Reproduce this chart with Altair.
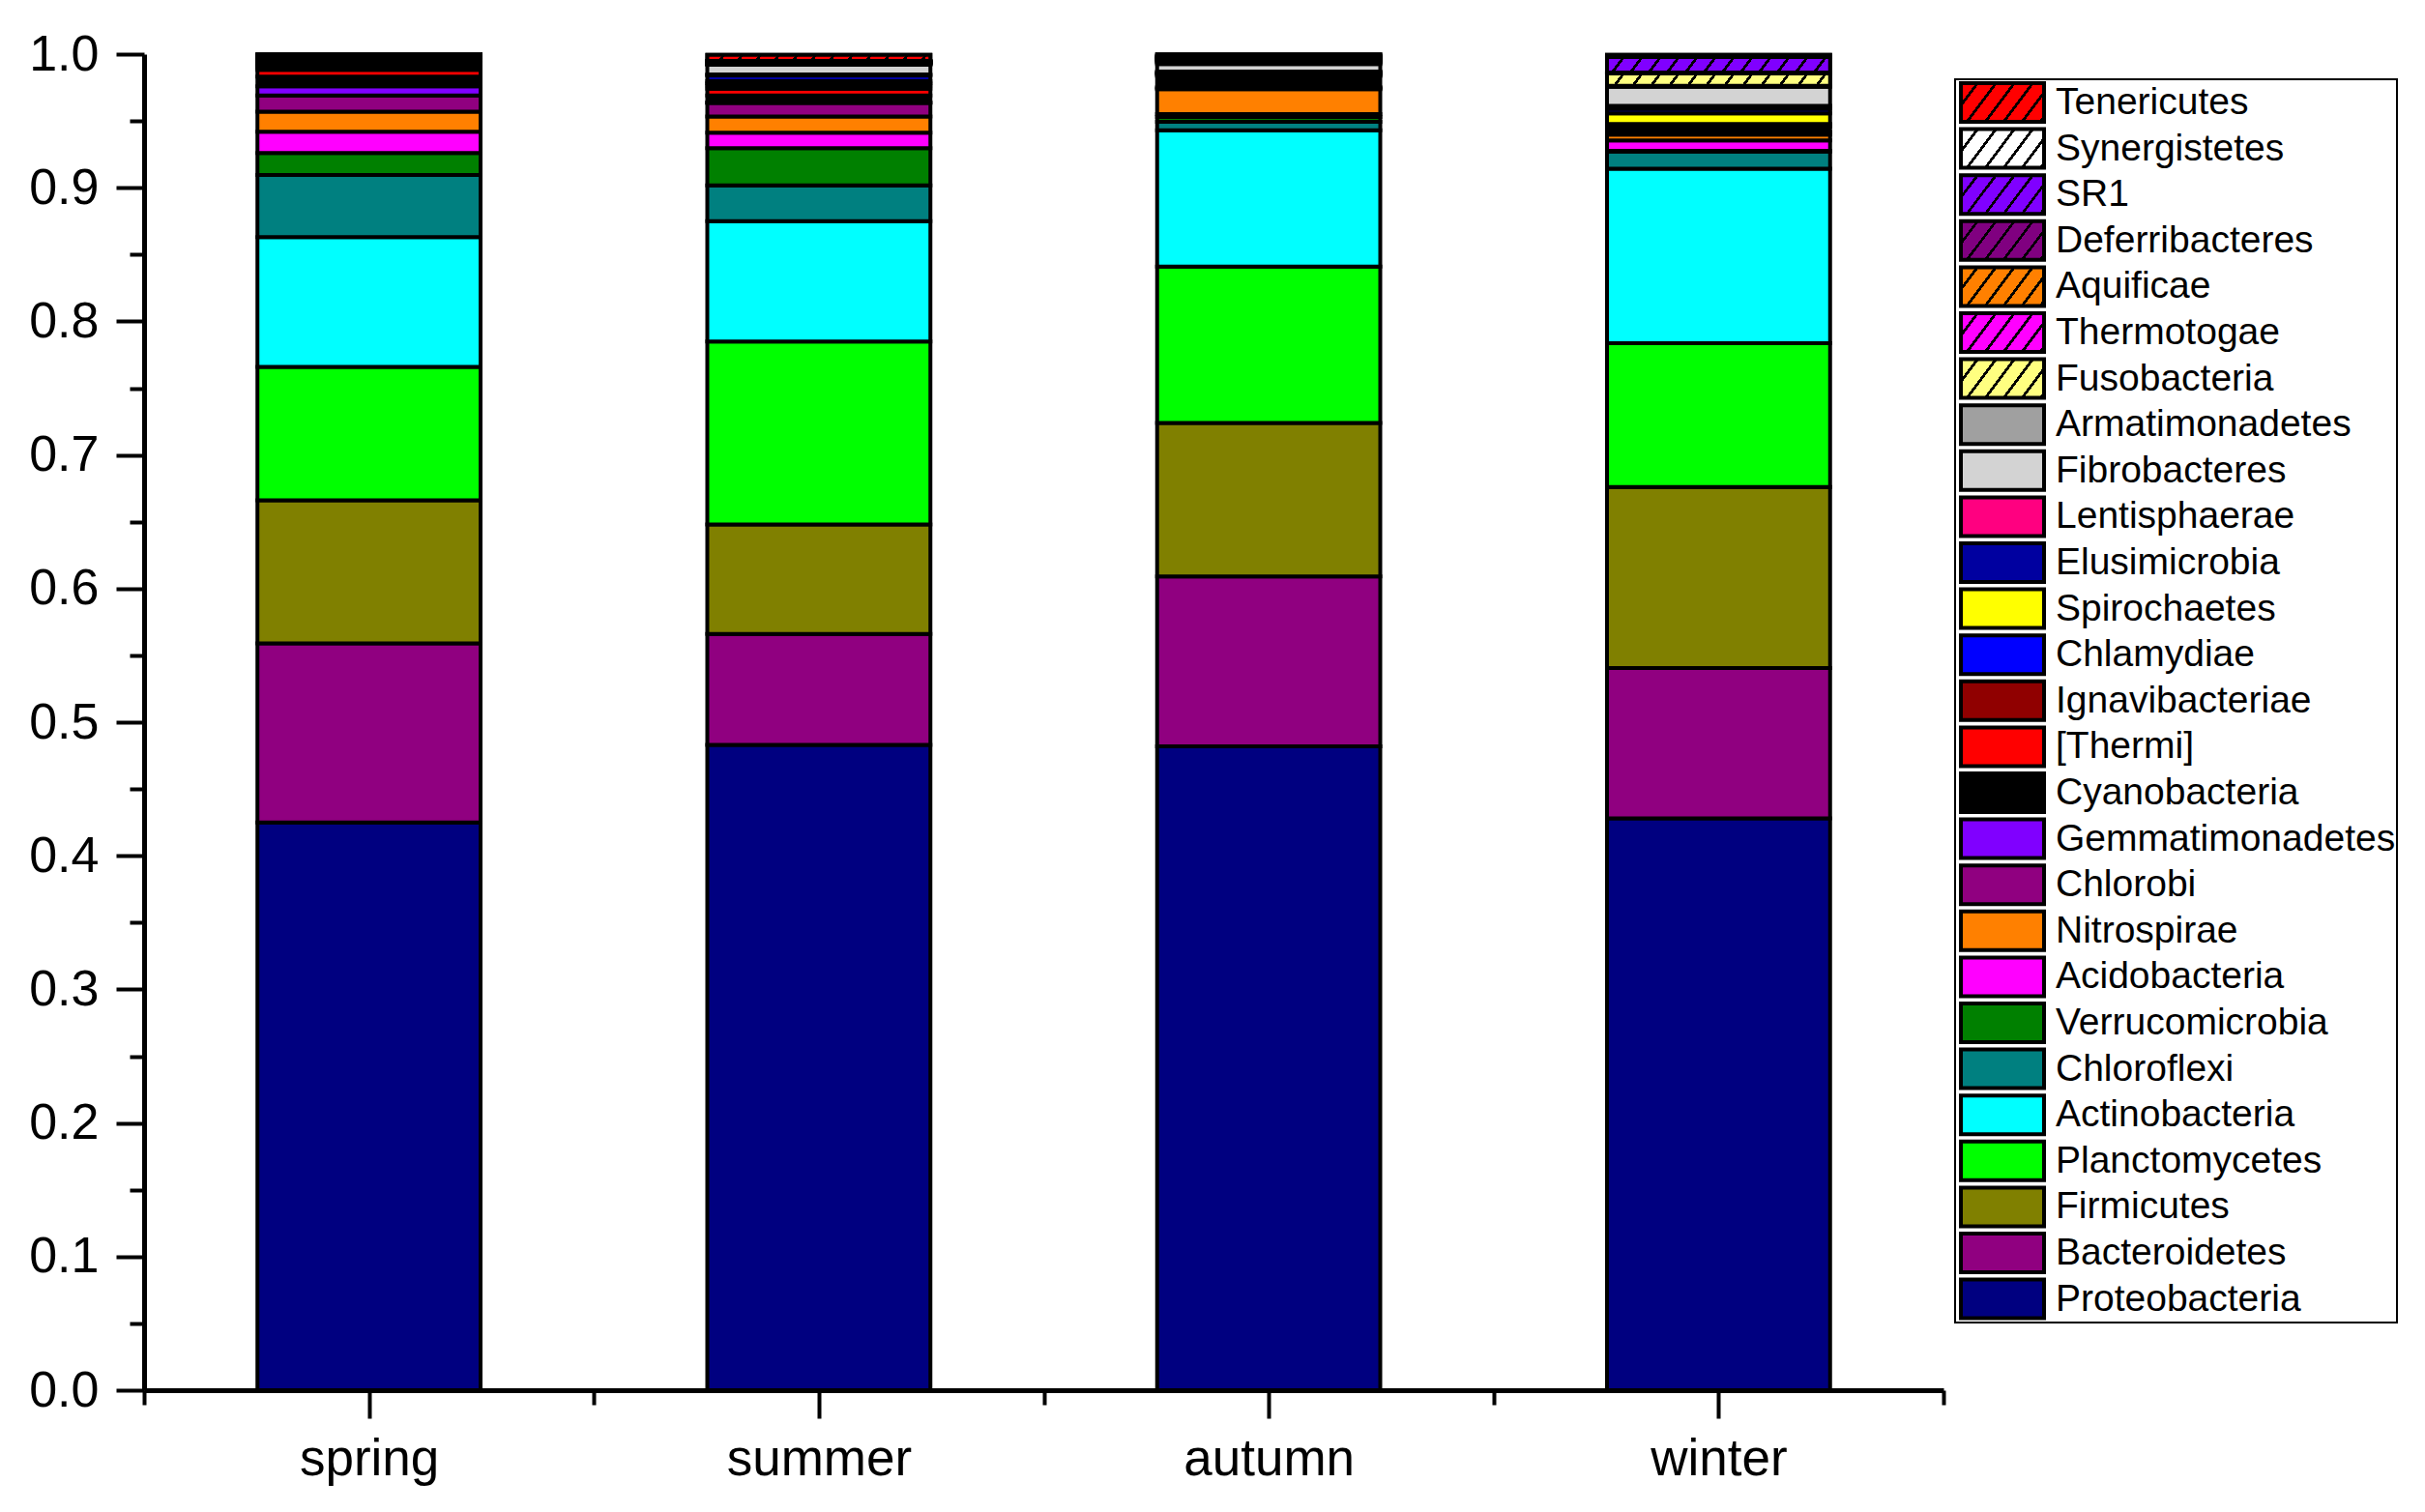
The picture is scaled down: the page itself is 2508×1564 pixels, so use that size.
import json
import altair as alt

# ---------------- data ----------------
seasons = ["spring", "summer", "autumn", "winter"]

# stacking order, bottom -> top
phyla = [
    "Proteobacteria", "Bacteroidetes", "Firmicutes", "Planctomycetes",
    "Actinobacteria", "Chloroflexi", "Verrucomicrobia", "Acidobacteria",
    "Nitrospirae", "Chlorobi", "Gemmatimonadetes", "Cyanobacteria",
    "[Thermi]", "Ignavibacteriae", "Chlamydiae", "Spirochaetes",
    "Elusimicrobia", "Lentisphaerae", "Fibrobacteres", "Armatimonadetes",
    "Fusobacteria", "Thermotogae", "Aquificae", "Deferribacteres",
    "SR1", "Synergistetes", "Tenericutes",
]

colors = [
    "#000080", "#900080", "#808000", "#00FF00",
    "#00FFFF", "#008080", "#008000", "#FF00FF",
    "#FF8000", "#900080", "#8000FF", "#000000",
    "#FF0000", "#900000", "#0000FF", "#FFFF00",
    "#0000A0", "#FF0080", "#D3D3D3", "#A0A0A0",
    "#FFFF80", "#FF00FF", "#FF8000", "#800080",
    "#8000FF", "#FFFFFF", "#FF0000",
]

hatched = [False] * 20 + [True] * 7

spring_vals = [0.425, 0.134, 0.107, 0.100, 0.097, 0.0465, 0.0165, 0.016,
               0.015, 0.012, 0.007, 0.0072, 0.005, 0.0015, 0.001, 0.001,
               0.001, 0.001, 0.001, 0.001, 0.0008, 0.0007, 0.0007, 0.0006,
               0.0005, 0.0005, 0.0004]
summer_vals = [0.483, 0.083, 0.082, 0.137, 0.090, 0.0267, 0.028, 0.0115,
               0.0122, 0.010, 0.0005, 0.0052, 0.005, 0.0025, 0.0015, 0.0017,
               0.0043, 0.0007, 0.0072, 0.0006, 0.0004, 0.0004, 0.0004, 0.0004,
               0.0004, 0.0004, 0.0045]
autumn_vals = [0.482, 0.127, 0.115, 0.117, 0.102, 0.0064, 0.0035, 0.0022,
               0.0186, 0.0008, 0.0008, 0.0085, 0.0006, 0.0008, 0.0005, 0.0004,
               0.0004, 0.0004, 0.0057, 0.0012, 0.001, 0.0008, 0.0008, 0.0008,
               0.0008, 0.0008, 0.001]
winter_vals = [0.428, 0.1125, 0.1355, 0.1076, 0.1306, 0.0129, 0.0005, 0.0079,
               0.0043, 0.0012, 0.0008, 0.004, 0.0008, 0.0006, 0.0005, 0.0079,
               0.0035, 0.0022, 0.0143, 0.0007, 0.0093, 0.0003, 0.0002, 0.0002,
               0.0115, 0.0008, 0.0009]
season_values = [spring_vals, summer_vals, autumn_vals, winter_vals]

ytick_values = [0.0, 0.05, 0.1, 0.15, 0.2, 0.25, 0.3, 0.35, 0.4, 0.45, 0.5,
                0.55, 0.6, 0.65, 0.7, 0.75, 0.8, 0.85, 0.9, 0.95, 1.0]
xtick_values = [0, 0.5, 1, 1.5, 2, 2.5, 3, 3.5, 4]

# ---------------- layout constants ----------------
PLOT_W, PLOT_H = 1861, 1382
BAR_HALF = 0.248
LEG_SYM_W, LEG_SYM_H = 86.0, 40.0
LEG_PATH = "M-1,-0.909L2.909,-0.909L2.909,0.909L-1,0.909Z"


def hatch_gradient(color, w, h, period=19.0, slope=1.33, line_frac=0.18):
    """Linear gradient with hard stops drawing '/' hatch lines in a w x h box."""
    w = max(w, 1.0)
    h = max(h, 1.0)
    denom = slope * w + h
    gx, gy = slope * w / denom, h / denom
    g2 = gx * gx + gy * gy
    x2, y2 = gx / g2, gy / g2
    n = denom / (slope * period)
    stops = []
    k = 0
    while k / n < 1:
        a = k / n
        b = min((k + 1 - line_frac) / n, 1.0)
        c = min((k + 1) / n, 1.0)
        stops += [
            {"offset": round(a, 5), "color": color},
            {"offset": round(b, 5), "color": color},
            {"offset": round(b, 5), "color": "#000000"},
            {"offset": round(c, 5), "color": "#000000"},
        ]
        k += 1
    return {"gradient": "linear", "x1": 0, "y1": 0,
            "x2": round(x2, 5), "y2": round(y2, 5), "stops": stops}


records = []
hatch_records = []
bar_px_w = 2 * BAR_HALF * PLOT_W / len(seasons)
for si, (season, vals) in enumerate(zip(seasons, season_values)):
    cum = 0.0
    for p, v, c, h in zip(phyla, vals, colors, hatched):
        rec = {"season": season, "phylum": p,
               "x0": si + 0.5 - BAR_HALF, "x1": si + 0.5 + BAR_HALF,
               "y0": cum, "y1": cum + v}
        records.append(rec)
        if h:
            hr = dict(rec)
            hr["hatch"] = hatch_gradient(c, bar_px_w, v * PLOT_H)
            hatch_records.append(hr)
        cum += v

legend_order = phyla[::-1]
range_vals = []
for p in legend_order:
    i = phyla.index(p)
    if hatched[i]:
        range_vals.append(alt.ExprRef(expr=json.dumps(
            hatch_gradient(colors[i], LEG_SYM_W, LEG_SYM_H))))
    else:
        range_vals.append(colors[i])

x_label_expr = " : ".join(
    f"datum.value == {i + 0.5} ? '{s}'" for i, s in enumerate(seasons)) + " : ''"

xscale = alt.Scale(domain=[0, 4], nice=False, zero=False)
yscale = alt.Scale(domain=[0, 1], nice=False)

xaxis = alt.Axis(
    values=xtick_values, labelExpr=x_label_expr, title=None, grid=False,
    tickSize={"condition": {"test": "datum.value % 1 != 0", "value": 29}, "value": 15},
    tickWidth=4, tickColor="black", domainWidth=5, domainColor="black",
    labelFontSize=53, labelColor="black", labelPadding=16, labelLimit=600,
    labelOverlap=False, labelFlush=False,
)
yaxis = alt.Axis(
    values=ytick_values,
    labelExpr="round(datum.value*100) % 10 == 0 ? format(datum.value, '.1f') : ''",
    title=None, grid=False,
    tickSize={"condition": {"test": "round(datum.value*100) % 10 == 0", "value": 29}, "value": 15},
    tickWidth=4, tickColor="black", domainWidth=5, domainColor="black",
    labelFontSize=52, labelColor="black", labelPadding=18, labelLimit=600,
    labelOverlap=False, labelFlush=False,
)

legend = alt.Legend(
    title=None, orient="none", legendX=1873, legendY=26,
    symbolType=LEG_PATH, symbolSize=1936,
    symbolStrokeColor="black", symbolStrokeWidth=4, symbolOpacity=1,
    symbolOffset=3, clipHeight=46,
    labelFontSize=39, labelColor="black", labelLimit=700, labelOffset=52,
    rowPadding=1.6, padding=1, strokeColor="black", fillColor="white",
)

bars = alt.Chart(alt.Data(values=records)).mark_bar(
    stroke="black", strokeWidth=4
).encode(
    x=alt.X("x0:Q", scale=xscale, axis=xaxis),
    x2="x1:Q",
    y=alt.Y("y0:Q", scale=yscale, axis=yaxis, stack=None),
    y2="y1:Q",
    color=alt.Color("phylum:N",
                    scale=alt.Scale(domain=legend_order, range=range_vals),
                    legend=legend),
)

hatch_layer = alt.Chart(alt.Data(values=hatch_records)).mark_bar(
    stroke="black", strokeWidth=4
).encode(
    x=alt.X("x0:Q", scale=xscale, axis=xaxis),
    x2="x1:Q",
    y=alt.Y("y0:Q", scale=yscale, axis=yaxis, stack=None),
    y2="y1:Q",
    fill=alt.Fill("hatch:N", scale=None),
)

chart = alt.layer(bars, hatch_layer).properties(
    width=PLOT_W, height=PLOT_H,
    padding={"left": 141, "top": 48, "right": 490, "bottom": 110},
    autosize=alt.AutoSizeParams(type="none"),
).configure(
    font="Liberation Sans"
).configure_view(
    strokeWidth=0
).configure_legend(
    strokeWidth=2
)

chart.save("out.html", embed_options={"renderer": "svg", "actions": False})
